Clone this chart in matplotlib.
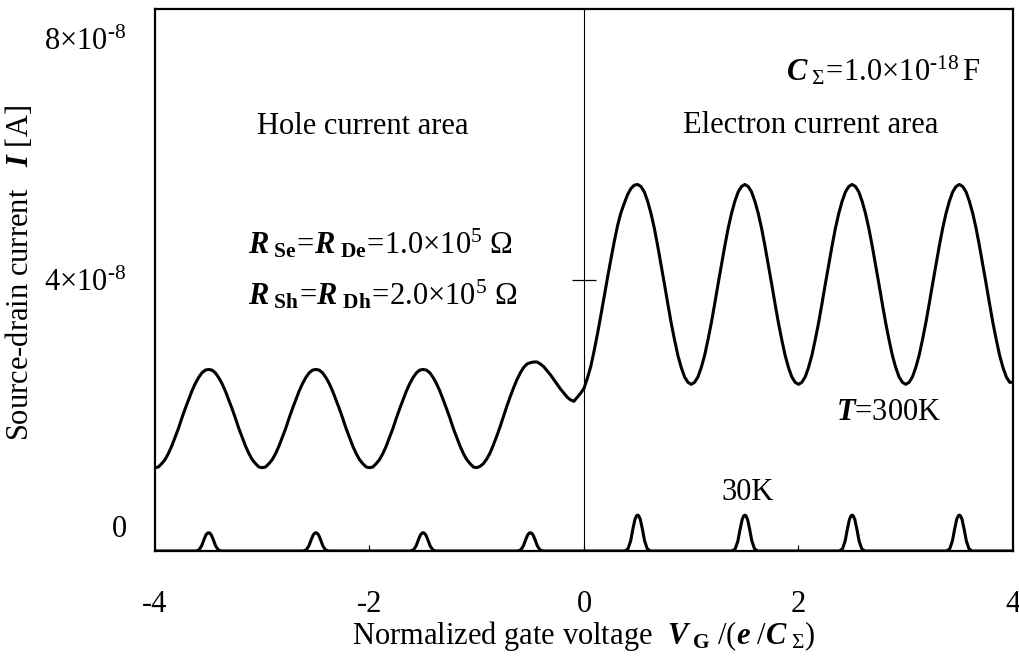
import numpy as np
import matplotlib
matplotlib.use('Agg')
import matplotlib.pyplot as plt

plt.rcParams['font.family'] = ['Liberation Serif', 'DejaVu Serif']
plt.rcParams['mathtext.fontset'] = 'custom'
plt.rcParams['mathtext.rm'] = 'Liberation Serif'
plt.rcParams['mathtext.it'] = 'Liberation Serif:italic'
plt.rcParams['mathtext.bf'] = 'Liberation Serif:bold'
plt.rcParams['mathtext.bfit'] = 'Liberation Serif:bold:italic'

HY = '\u2010'  # hyphen used for the exponent sign

# gate voltage grid of the readings, step 1/32
vg_300k = np.linspace(-4, 4, 257)

# T = 300K current, in units of 1e-8 A
i_300k = [
    # hole side, -4 .. -1
    1.23, 1.24, 1.29, 1.35, 1.44, 1.55, 1.68, 1.81, 1.96, 2.10, 2.23, 2.36, 2.47, 2.56, 2.63, 2.67,
    2.68, 2.67, 2.63, 2.56, 2.47, 2.36, 2.23, 2.10, 1.96, 1.81, 1.68, 1.55, 1.44, 1.35, 1.29, 1.24,
    1.23, 1.24, 1.29, 1.35, 1.44, 1.55, 1.68, 1.81, 1.96, 2.10, 2.23, 2.36, 2.47, 2.56, 2.63, 2.67,
    2.68, 2.67, 2.63, 2.56, 2.47, 2.36, 2.23, 2.10, 1.96, 1.81, 1.68, 1.55, 1.44, 1.35, 1.29, 1.24,
    1.23, 1.24, 1.29, 1.35, 1.44, 1.55, 1.68, 1.81, 1.96, 2.10, 2.23, 2.36, 2.47, 2.56, 2.63, 2.67,
    2.68, 2.67, 2.63, 2.56, 2.47, 2.36, 2.23, 2.10, 1.96, 1.81, 1.68, 1.55, 1.44, 1.35, 1.29, 1.24,
    # -1 .. 0
    1.23, 1.25, 1.29, 1.36, 1.45, 1.57, 1.70, 1.84, 1.99, 2.14, 2.28, 2.41, 2.53, 2.63, 2.71, 2.76,
    2.78, 2.79, 2.79, 2.76, 2.72, 2.66, 2.60, 2.53, 2.46, 2.39, 2.33, 2.27, 2.23, 2.21, 2.27, 2.33,
    2.40,
    # electron side, 1/32 .. 1
    2.55, 2.72, 2.95, 3.20, 3.47, 3.75, 4.03, 4.30, 4.56, 4.80, 4.99, 5.13, 5.26, 5.35, 5.40, 5.41,
    5.38, 5.30, 5.16, 4.98, 4.76, 4.50, 4.22, 3.94, 3.65, 3.37, 3.12, 2.89, 2.71, 2.57, 2.49, 2.46,
    # 1 .. 4
    2.49, 2.57, 2.71, 2.89, 3.12, 3.37, 3.65, 3.94, 4.22, 4.50, 4.76, 4.98, 5.16, 5.30, 5.38, 5.41,
    5.38, 5.30, 5.16, 4.98, 4.76, 4.50, 4.22, 3.94, 3.65, 3.37, 3.12, 2.89, 2.71, 2.57, 2.49, 2.46,
    2.49, 2.57, 2.71, 2.89, 3.12, 3.37, 3.65, 3.94, 4.22, 4.50, 4.76, 4.98, 5.16, 5.30, 5.38, 5.41,
    5.38, 5.30, 5.16, 4.98, 4.76, 4.50, 4.22, 3.94, 3.65, 3.37, 3.12, 2.89, 2.71, 2.57, 2.49, 2.46,
    2.49, 2.57, 2.71, 2.89, 3.12, 3.37, 3.65, 3.94, 4.22, 4.50, 4.76, 4.98, 5.16, 5.30, 5.38, 5.41,
    5.38, 5.30, 5.16, 4.98, 4.76, 4.50, 4.22, 3.94, 3.65, 3.37, 3.12, 2.89, 2.71, 2.57, 2.49, 2.49,
]

# T = 30K peaks
peak_centers = [-3.5, -2.5, -1.5, -0.5, 0.5, 1.5, 2.5, 3.5]
peak_heights = [0.27, 0.27, 0.27, 0.27, 0.53, 0.53, 0.53, 0.53]
peak_offsets = [-0.12, -0.09, -0.065, -0.045, -0.025, -0.01, 0.0, 0.01, 0.025, 0.045, 0.065, 0.09, 0.12]
peak_shape = [0.0, 0.06, 0.28, 0.6, 0.88, 0.98, 1.0, 0.98, 0.88, 0.6, 0.28, 0.06, 0.0]

vg_30k = [-4.0]
i_30k = [0.0]
for c, h in zip(peak_centers, peak_heights):
    for o, s in zip(peak_offsets, peak_shape):
        vg_30k.append(c + o)
        i_30k.append(h * s)
vg_30k.append(4.0)
i_30k.append(0.0)

fs = 22

fig = plt.figure(figsize=(10.2, 6.56), dpi=100)
ax = fig.add_axes([155 / 1020, 105 / 656, 858 / 1020, 542 / 656])

ax.plot(vg_300k, np.array(i_300k) * 1e-8, color='black', lw=2.2)
ax.plot(vg_30k, np.array(i_30k) * 1e-8, color='black', lw=2.2)

ax.set_xlim(-4, 4)
ax.set_ylim(0, 8e-8)
for s in ax.spines.values():
    s.set_linewidth(1.6)

ax.set_xticks([-4, -2, 0, 2, 4])
ax.set_xticklabels(['-4', '-2', '0', '2', '4'])
ax.tick_params(axis='x', direction='in', length=4, width=0.8, pad=28, labelsize=fs)
ax.set_yticks([])

# centre axis at V = 0
cax = ax.secondary_yaxis(0.5)
cax.spines['left'].set_linewidth(0.9)
cax.set_yticks([4e-8])
cax.set_yticklabels([''])
cax.tick_params(axis='y', direction='inout', length=17, width=0.9)

# y tick labels
ytrans = ax.get_yaxis_transform()
ax.text(-0.033, 7.5e-8, '8\u00d710$^{' + HY + '8}$', transform=ytrans, ha='right', va='center', fontsize=fs)
ax.text(-0.033, 3.95e-8, '4\u00d710$^{' + HY + '8}$', transform=ytrans, ha='right', va='center', fontsize=fs)
ax.text(-0.033, 0.31e-8, '0', transform=ytrans, ha='right', va='center', fontsize=fs)

ax.set_xlabel(r'Normalized gate voltage  $\mathbfit{V}_{\ \mathbf{G}}\ /(\mathbfit{e}\ /\mathbfit{C}_{\ \Sigma})$',
              fontsize=fs, labelpad=0)
fig.text(20 / 1020, 1 - 273 / 656, r'Source-drain current   $\mathbfit{I}$ [A]',
         rotation=90, ha='center', va='center', fontsize=fs)

ax.text(-3.05, 6.27e-8, 'Hole current area', fontsize=fs, ha='left', va='center')
ax.text(0.92, 6.28e-8, 'Electron current area', fontsize=fs, ha='left', va='center')
ax.text(1.88, 7.09e-8, r'$\mathbfit{C}_{\ \Sigma}\!=\!1.0{\times}10^{' + HY + r'18}\,\mathrm{F}$',
        fontsize=fs, ha='left', va='center')
ax.text(-3.13, 4.53e-8, r'$\mathbfit{R}_{\ \mathbf{Se}}\!=\!\mathbfit{R}_{\ \mathbf{De}}\!=\!1.0{\times}10^{5}\ \Omega$',
        fontsize=fs, ha='left', va='center')
ax.text(-3.13, 3.79e-8, r'$\mathbfit{R}_{\ \mathbf{Sh}}\!=\!\mathbfit{R}_{\ \mathbf{Dh}}\!=\!2.0{\times}10^{5}\ \Omega$',
        fontsize=fs, ha='left', va='center')
ax.text(2.35, 2.04e-8, r'$\mathbfit{T}$=300K', fontsize=fs, ha='left', va='center')
ax.text(1.28, 0.87e-8, '30K', fontsize=fs, ha='left', va='center')

fig.savefig('out.png', dpi=100)
